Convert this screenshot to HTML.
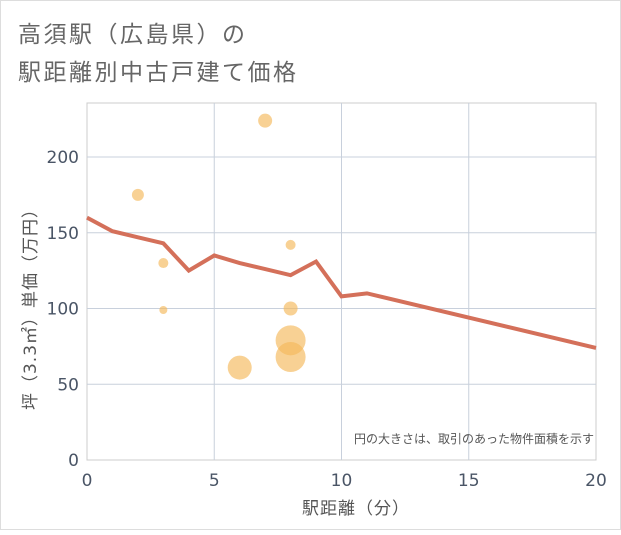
<!DOCTYPE html>
<html><head><meta charset="utf-8"><style>
body{margin:0;background:#fff;}
svg text{font-family:"DejaVu Sans","Noto Sans CJK JP",sans-serif;}
</style></head><body>
<svg width="621" height="530" xmlns="http://www.w3.org/2000/svg">
<rect x="0.5" y="0.5" width="620" height="529" fill="#fff" stroke="#ddd"/>
<text x="18" y="42" font-size="23" letter-spacing="2.5" fill="#666">高須駅（広島県）の</text>
<text x="18" y="80" font-size="23" letter-spacing="2.5" fill="#666">駅距離別中古戸建て価格</text>
<rect x="87" y="103" width="509" height="357" fill="#fff" stroke="#ccc"/>
<g id="grid"></g>
<g id="bubbles"></g>
<path id="line" fill="none" stroke="#d4705a" stroke-width="4"/>
<g id="ticks"></g>
<text x="594" y="443" font-size="12" fill="#555" text-anchor="end">円の大きさは、取引のあった物件面積を示す</text>
<text x="356" y="514" font-size="17" letter-spacing="1" fill="#555" text-anchor="middle">駅距離（分）</text>
<text transform="translate(36,305) rotate(-90)" font-size="17" letter-spacing="1" fill="#555" text-anchor="middle">坪（3.3㎡）単価（万円）</text>
</svg>
<script>
const xTicks=[0,5,10,15,20];
const yTicks=[0,50,100,150,200];
const lineX=[0,1,2,3,4,5,6,7,8,9,10,11,20];
const lineY=[160,151,147,143,125,135,130,126,122,131,108,110,74];
const bubX=[2,3,3,7,8,8,8,8,6];
const bubY=[175,130,99,224,142,100,79,68,61];
const bubR=[6,5,4,7,5,7,15,15,12];
const NS="http://www.w3.org/2000/svg";
const sx=v=>87+v*509/20, sy=v=>460-v*303/200;
const grid=document.getElementById('grid'), ticks=document.getElementById('ticks');
function mk(tag,attrs,parent){const e=document.createElementNS(NS,tag);for(const k in attrs)e.setAttribute(k,attrs[k]);parent.appendChild(e);return e;}
xTicks.forEach(v=>{
  if(v>0&&v<20){const l=mk('line',{x1:sx(v),x2:sx(v),y1:103,y2:460,stroke:'#c8d0dc'},grid);
  
  }
  const t=mk('text',{x:sx(v),y:486,'font-size':17,fill:'#4a5566','text-anchor':'middle'},ticks);t.textContent=v;
  
  
});
yTicks.forEach(v=>{
  if(v>0){const l=mk('line',{x1:87,x2:596,y1:sy(v),y2:sy(v),stroke:'#c8d0dc'},grid);
  
  }
  const t=mk('text',{x:79,y:sy(v)+6,'font-size':17,fill:'#4a5566','text-anchor':'end'},ticks);t.textContent=v;
  
  
});
const bg=document.getElementById('bubbles');
bubX.forEach((x,i)=>{const c=mk('circle',{cx:sx(x),cy:sy(bubY[i]),r:bubR[i],fill:'#f5b95a','fill-opacity':0.65},bg);
  
  });
document.getElementById('line').setAttribute('d',lineX.map((x,i)=>(i?'L':'M')+sx(x)+','+sy(lineY[i])).join(''));
</script>
</body></html>
